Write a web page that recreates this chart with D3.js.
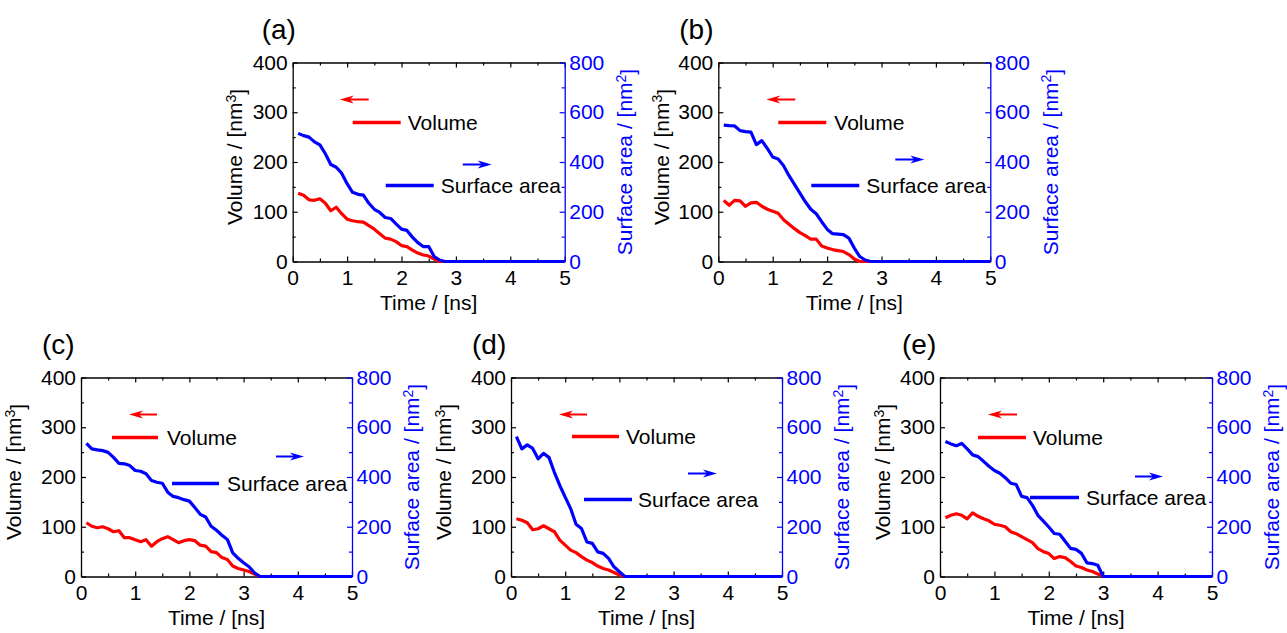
<!DOCTYPE html>
<html>
<head>
<meta charset="utf-8">
<script src="https://cdn.jsdelivr.net/npm/d3@7"></script>
<style>
  body { margin: 0; background: #fff; }
  svg { display: block; font-family: "Liberation Sans", Arial, sans-serif; }
</style>
</head>
<body>
<div class="chart"></div>
<script>
var svgWidth = 1287;
var svgHeight = 633;

// time axis, ns
var times = [0.1, 0.2, 0.3, 0.4, 0.5, 0.6, 0.7, 0.8, 0.9, 1.0,
             1.1, 1.2, 1.3, 1.4, 1.5, 1.6, 1.7, 1.8, 1.9, 2.0,
             2.1, 2.2, 2.3, 2.4, 2.5, 2.6, 2.7, 2.8, 2.9, 3.0,
             3.1, 3.2, 3.3, 3.4, 3.5, 3.6, 3.7, 3.8, 3.9, 4.0,
             4.1, 4.2, 4.3, 4.4, 4.5, 4.6, 4.7, 4.8, 4.9, 5.0];

var panelLabels = ["(a)", "(b)", "(c)", "(d)", "(e)"];

// volume, nm^3
var volumeA = [137, 133, 124, 123, 126, 117, 102, 109, 96, 85,
               82, 80, 79, 72, 65, 56, 47, 45, 40, 32,
               30, 23, 17, 13, 11, 5, 0, 0, 0, 0,
               0, 0, 0, 0, 0, 0, 0, 0, 0, 0,
               0, 0, 0, 0, 0, 0, 0, 0, 0, 0];
var volumeB = [123, 113, 123, 122, 111, 118, 119, 111, 105, 101,
               97, 84, 75, 66, 58, 52, 45, 45, 31, 27,
               24, 22, 20, 14, 5, 0, 0, 0, 0, 0,
               0, 0, 0, 0, 0, 0, 0, 0, 0, 0,
               0, 0, 0, 0, 0, 0, 0, 0, 0, 0];
var volumeC = [108, 101, 98, 100, 96, 90, 92, 78, 78, 74,
               70, 74, 61, 70, 76, 80, 74, 68, 72, 74,
               72, 63, 61, 50, 48, 38, 34, 21, 16, 13,
               10, 5, 0, 0, 0, 0, 0, 0, 0, 0,
               0, 0, 0, 0, 0, 0, 0, 0, 0, 0];
var volumeD = [116, 113, 108, 94, 96, 102, 96, 90, 73, 63,
               53, 48, 40, 33, 28, 21, 16, 13, 8, 3,
               0, 0, 0, 0, 0, 0, 0, 0, 0, 0,
               0, 0, 0, 0, 0, 0, 0, 0, 0, 0,
               0, 0, 0, 0, 0, 0, 0, 0, 0, 0];
var volumeE = [118, 123, 126, 123, 116, 128, 121, 116, 112, 105,
               103, 100, 90, 86, 80, 74, 68, 56, 50, 46,
               36, 40, 38, 30, 21, 18, 13, 10, 5, 0,
               0, 0, 0, 0, 0, 0, 0, 0, 0, 0,
               0, 0, 0, 0, 0, 0, 0, 0, 0, 0];

// surface area, nm^2
var surfaceA = [515, 506, 500, 481, 469, 433, 390, 379, 355, 313,
                278, 270, 267, 234, 210, 197, 177, 173, 151, 130,
                125, 98, 76, 60, 60, 20, 6, 0, 0, 0,
                0, 0, 0, 0, 0, 0, 0, 0, 0, 0,
                0, 0, 0, 0, 0, 0, 0, 0, 0, 0];
var surfaceB = [548, 546, 545, 526, 522, 520, 470, 486, 455, 420,
                412, 385, 345, 310, 275, 240, 210, 192, 160, 130,
                112, 110, 108, 94, 54, 20, 6, 0, 0, 0,
                0, 0, 0, 0, 0, 0, 0, 0, 0, 0,
                0, 0, 0, 0, 0, 0, 0, 0, 0, 0];
var surfaceC = [535, 513, 509, 506, 499, 479, 455, 453, 446, 426,
                423, 413, 386, 379, 375, 339, 322, 317, 309, 303,
                277, 250, 239, 202, 186, 166, 149, 95, 73, 55,
                39, 15, 0, 0, 0, 0, 0, 0, 0, 0,
                0, 0, 0, 0, 0, 0, 0, 0, 0, 0];
var surfaceD = [562, 513, 529, 515, 473, 495, 479, 419, 366, 319,
                273, 210, 193, 139, 133, 99, 93, 73, 39, 19,
                0, 0, 0, 0, 0, 0, 0, 0, 0, 0,
                0, 0, 0, 0, 0, 0, 0, 0, 0, 0,
                0, 0, 0, 0, 0, 0, 0, 0, 0, 0];
var surfaceE = [543, 533, 526, 535, 513, 489, 482, 463, 443, 426,
                415, 397, 375, 370, 322, 317, 286, 246, 223, 199,
                173, 170, 142, 113, 109, 93, 55, 52, 45, 0,
                0, 0, 0, 0, 0, 0, 0, 0, 0, 0,
                0, 0, 0, 0, 0, 0, 0, 0, 0, 0];

var volumeSeries = [volumeA, volumeB, volumeC, volumeD, volumeE];
var surfaceSeries = [surfaceA, surfaceB, surfaceC, surfaceD, surfaceE];

var xTicks = [0, 1, 2, 3, 4, 5];
var xMinorTicks = [0.5, 1.5, 2.5, 3.5, 4.5];
var volumeTicks = [0, 100, 200, 300, 400];
var volumeMinorTicks = [50, 150, 250, 350];
var surfaceTicks = [0, 200, 400, 600, 800];
var surfaceMinorTicks = [100, 300, 500, 700];

// panel placement (pixels) and legend spots relative to plot corner
var layout = [
  { left: 292.7, top: 62.5, w: 272, labelDx: -31, yTitleDx: -58,
    rArrow: [47, 76, 37], rLine: [60, 108, 60], volX: 115, bLine: [93, 141, 123], surfX: 148, bArrow: [170, 199, 102] },
  { left: 718.3, top: 62.5, w: 272, labelDx: -39, yTitleDx: -57,
    rArrow: [48, 77, 37], rLine: [60, 108, 60], volX: 116, bLine: [93, 141, 123], surfX: 148, bArrow: [177, 206, 97] },
  { left: 81, top: 377.5, w: 271, labelDx: -39, yTitleDx: -67,
    rArrow: [48, 76, 37], rLine: [31, 77, 60], volX: 86, bLine: [91, 138, 106], surfX: 146, bArrow: [195, 223, 79] },
  { left: 511, top: 377.5, w: 271, labelDx: -39, yTitleDx: -67,
    rArrow: [48, 76, 37], rLine: [61, 108, 59], volX: 115, bLine: [73, 121, 122], surfX: 127, bArrow: [177, 206, 96] },
  { left: 940, top: 377.5, w: 272, labelDx: -38, yTitleDx: -57.5,
    rArrow: [48, 77, 37], rLine: [38, 86, 60], volX: 93, bLine: [90, 139, 120], surfX: 146, bArrow: [195, 223, 99] }
];

var plotHeight = 199;
var fontSize = 21;
var red = "#ff0000";
var blue = "#0000ff";

var svg = d3.select(".chart")
  .append("svg")
  .attr("width", svgWidth)
  .attr("height", svgHeight);

svg.append("rect").attr("width", svgWidth).attr("height", svgHeight).attr("fill", "#fff");

function styleAxis(g, color) {
  g.selectAll("path.domain").attr("stroke", color).attr("stroke-width", 1.3);
  g.selectAll(".tick line").attr("stroke", color).attr("stroke-width", 1.2);
  g.selectAll(".tick text")
    .attr("fill", color)
    .style("font-size", fontSize + "px")
    .style("font-family", "'Liberation Sans', Arial, sans-serif");
}

function arrow(g, x1, x2, y, color, pointLeft) {
  var tip = pointLeft ? x1 : x2;
  var dir = pointLeft ? 1 : -1;
  g.append("line")
    .attr("x1", tip + dir * 8).attr("x2", pointLeft ? x2 : x1).attr("y1", y).attr("y2", y)
    .attr("stroke", color).attr("stroke-width", 2);
  g.append("path")
    .attr("d", `M${tip},${y} L${tip + dir * 14},${y - 4} L${tip + dir * 10},${y} L${tip + dir * 14},${y + 4} Z`)
    .attr("fill", color);
}

layout.forEach(function(p, i) {
  var width = p.w;
  var height = plotHeight;

  var chartGroup = svg.append("g")
    .attr("transform", `translate(${p.left}, ${p.top})`);

  var xScale = d3.scaleLinear().domain([0, 5]).range([0, width]);
  var yVolume = d3.scaleLinear().domain([0, 400]).range([height, 0]);
  var ySurface = d3.scaleLinear().domain([0, 800]).range([height, 0]);

  // minor ticks first
  chartGroup.append("g")
    .attr("transform", `translate(0, ${height})`)
    .call(d3.axisBottom(xScale).tickValues(xMinorTicks).tickSizeInner(-3).tickSizeOuter(0).tickFormat(""))
    .call(g => { g.select(".domain").remove(); styleAxis(g, "#000"); });
  chartGroup.append("g")
    .call(d3.axisTop(xScale).tickValues(xMinorTicks).tickSizeInner(-3).tickSizeOuter(0).tickFormat(""))
    .call(g => { g.select(".domain").remove(); styleAxis(g, "#000"); });
  chartGroup.append("g")
    .call(d3.axisLeft(yVolume).tickValues(volumeMinorTicks).tickSizeInner(-3).tickSizeOuter(0).tickFormat(""))
    .call(g => { g.select(".domain").remove(); styleAxis(g, "#000"); });
  chartGroup.append("g")
    .attr("transform", `translate(${width}, 0)`)
    .call(d3.axisRight(ySurface).tickValues(surfaceMinorTicks).tickSizeInner(-3).tickSizeOuter(0).tickFormat(""))
    .call(g => { g.select(".domain").remove(); styleAxis(g, blue); });

  // major axes
  chartGroup.append("g")
    .attr("transform", `translate(0, ${height})`)
    .call(d3.axisBottom(xScale).tickValues(xTicks).tickSizeInner(-5).tickSizeOuter(0).tickPadding(8.5).tickFormat(d3.format("d")))
    .call(g => styleAxis(g, "#000"));
  chartGroup.append("g")
    .call(d3.axisTop(xScale).tickValues(xTicks).tickSizeInner(-5).tickSizeOuter(0).tickFormat(""))
    .call(g => styleAxis(g, "#000"));
  chartGroup.append("g")
    .call(d3.axisLeft(yVolume).tickValues(volumeTicks).tickSizeInner(-5).tickSizeOuter(0).tickPadding(5))
    .call(g => styleAxis(g, "#000"));
  chartGroup.append("g")
    .attr("transform", `translate(${width}, 0)`)
    .call(d3.axisRight(ySurface).tickValues(surfaceTicks).tickSizeInner(-5).tickSizeOuter(0).tickPadding(4.5))
    .call(g => styleAxis(g, blue));

  // lines
  var volumeLine = d3.line()
    .x((d, k) => xScale(times[k]))
    .y(d => yVolume(d));
  var surfaceLine = d3.line()
    .x((d, k) => xScale(times[k]))
    .y(d => ySurface(d));

  chartGroup.append("path")
    .datum(volumeSeries[i])
    .attr("d", volumeLine)
    .attr("fill", "none")
    .attr("stroke", red)
    .attr("stroke-width", 3.2)
    .attr("stroke-linejoin", "round");

  chartGroup.append("path")
    .datum(surfaceSeries[i])
    .attr("d", surfaceLine)
    .attr("fill", "none")
    .attr("stroke", blue)
    .attr("stroke-width", 3.2)
    .attr("stroke-linejoin", "round");

  // legend
  arrow(chartGroup, p.rArrow[0], p.rArrow[1], p.rArrow[2], red, true);
  arrow(chartGroup, p.bArrow[0], p.bArrow[1], p.bArrow[2], blue, false);

  chartGroup.append("line")
    .attr("x1", p.rLine[0]).attr("x2", p.rLine[1]).attr("y1", p.rLine[2]).attr("y2", p.rLine[2])
    .attr("stroke", red).attr("stroke-width", 3.5);
  chartGroup.append("text")
    .attr("x", p.volX).attr("y", p.rLine[2]).attr("dy", "0.35em")
    .style("font-size", fontSize + "px")
    .text("Volume");

  chartGroup.append("line")
    .attr("x1", p.bLine[0]).attr("x2", p.bLine[1]).attr("y1", p.bLine[2]).attr("y2", p.bLine[2])
    .attr("stroke", blue).attr("stroke-width", 3.5);
  chartGroup.append("text")
    .attr("x", p.surfX).attr("y", p.bLine[2]).attr("dy", "0.35em")
    .style("font-size", fontSize + "px")
    .text("Surface area");

  // axis titles
  chartGroup.append("text")
    .attr("text-anchor", "middle")
    .attr("x", width / 2)
    .attr("y", height + 48.5)
    .style("font-size", fontSize + "px")
    .text("Time / [ns]");

  var leftTitle = chartGroup.append("text")
    .attr("text-anchor", "middle")
    .attr("transform", `translate(${p.yTitleDx}, ${height / 2 - 5}) rotate(-90)`)
    .attr("dy", "0.35em")
    .style("font-size", fontSize + "px");
  leftTitle.append("tspan").text("Volume / [nm");
  leftTitle.append("tspan").attr("dy", "-0.45em").style("font-size", "14px").text("3");
  leftTitle.append("tspan").attr("dy", "0.45em").text("]");

  var rightTitle = chartGroup.append("text")
    .attr("text-anchor", "middle")
    .attr("fill", blue)
    .attr("transform", `translate(${width + 60}, ${height / 2}) rotate(-90)`)
    .attr("dy", "0.35em")
    .style("font-size", fontSize + "px");
  rightTitle.append("tspan").text("Surface area / [nm");
  rightTitle.append("tspan").attr("dy", "-0.45em").style("font-size", "14px").text("2");
  rightTitle.append("tspan").attr("dy", "0.45em").text("]");

  // panel label
  chartGroup.append("text")
    .attr("x", p.labelDx)
    .attr("y", -24)
    .style("font-size", "28px")
    .text(panelLabels[i]);
});
</script>
</body>
</html>
